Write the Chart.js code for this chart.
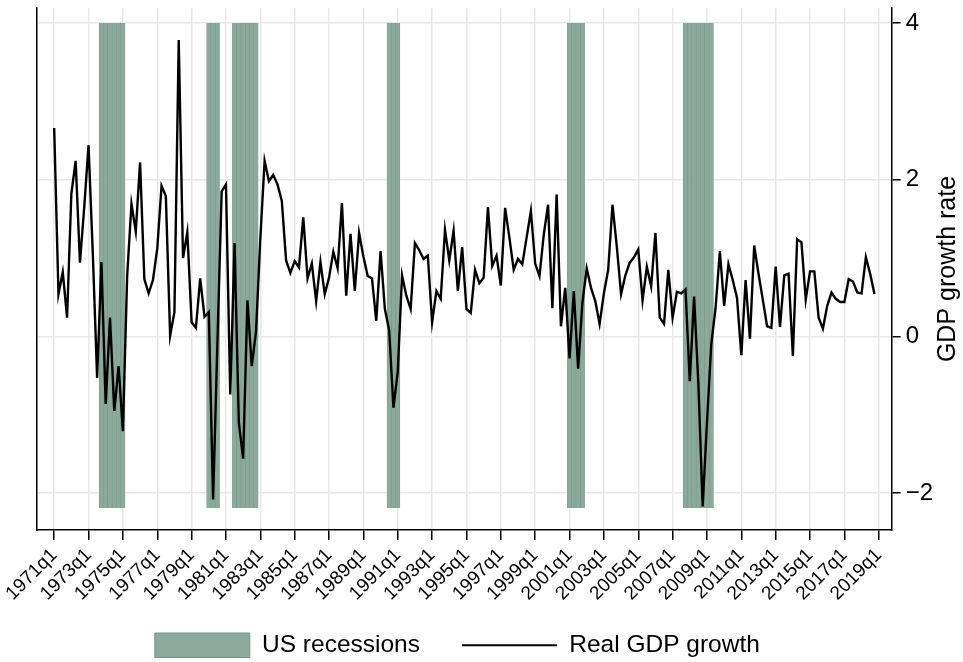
<!DOCTYPE html>
<html>
<head>
<meta charset="utf-8">
<script src="https://cdn.jsdelivr.net/npm/chart.js@4.4.1/dist/chart.umd.min.js"></script>
<style>
  html, body { margin: 0; padding: 0; background: #fff; }
</style>
</head>
<body>
<canvas id="gdp-chart" width="963" height="662"></canvas>
<script>
// quarterly real GDP growth, 1971q1 .. 2018q4
var firstYear = 1971;
var lastTickYear = 2019;
var growth = [
  2.66, 0.54, 0.82, 0.24, 1.82, 2.24, 0.94, 1.65,   // 1971-72
  2.44, 1.05, -0.53, 0.95, -0.86, 0.24, -0.95, -0.38, // 1973-74
  -1.21, 0.78, 1.69, 1.34, 2.22, 0.73, 0.55, 0.72,  // 1975-76
  1.12, 1.92, 1.79, 0.01, 0.31, 3.78, 1.00, 1.33,   // 1977-78
  0.18, 0.11, 0.74, 0.25, 0.31, -2.08, -0.10, 1.85, // 1979-80
  1.94, -0.74, 1.19, -1.10, -1.56, 0.46, -0.38, 0.06, // 1981-82
  1.25, 2.24, 1.98, 2.06, 1.94, 1.73, 0.97, 0.81,   // 1983-84
  0.96, 0.88, 1.52, 0.74, 0.93, 0.45, 0.95, 0.54,   // 1985-86
  0.75, 1.08, 0.87, 1.70, 0.52, 1.31, 0.58, 1.32,   // 1987-88
  1.02, 0.77, 0.74, 0.20, 1.09, 0.35, 0.08, -0.91,  // 1989-90
  -0.45, 0.78, 0.52, 0.35, 1.19, 1.10, 0.99, 1.03,  // 1991-92
  0.18, 0.58, 0.48, 1.36, 0.97, 1.35, 0.58, 1.14,   // 1993-94
  0.35, 0.30, 0.85, 0.68, 0.75, 1.65, 0.90, 1.03,   // 1995-96
  0.65, 1.64, 1.26, 0.85, 0.99, 0.92, 1.26, 1.60,   // 1997-98
  0.93, 0.77, 1.30, 1.68, 0.36, 1.81, 0.13, 0.62,   // 1999-00
  -0.28, 0.58, -0.41, 0.43, 0.87, 0.62, 0.45, 0.16, // 2001-02
  0.55, 0.85, 1.68, 1.15, 0.54, 0.78, 0.94, 1.01,   // 2003-04
  1.11, 0.46, 0.89, 0.64, 1.32, 0.24, 0.16, 0.85,   // 2005-06
  0.24, 0.57, 0.55, 0.60, -0.57, 0.51, -0.60, -2.17, // 2007-08
  -1.10, -0.10, 0.36, 1.09, 0.39, 0.92, 0.72, 0.49, // 2009-10
  -0.24, 0.72, -0.03, 1.16, 0.80, 0.47, 0.13, 0.11, // 2011-12
  0.89, 0.12, 0.78, 0.80, -0.25, 1.24, 1.20, 0.47,  // 2013-14
  0.83, 0.83, 0.24, 0.10, 0.39, 0.56, 0.48, 0.44,   // 2015-16
  0.44, 0.73, 0.70, 0.56, 0.55, 1.01, 0.80, 0.54    // 2017-18
];
var recessions = [
  ["1973q4", "1975q1"],
  ["1980q1", "1980q3"],
  ["1981q3", "1982q4"],
  ["1990q3", "1991q1"],
  ["2001q1", "2001q4"],
  ["2007q4", "2009q2"]
];
var recessionBand = [-2.19, 4];
var yTicks = [-2, 0, 2, 4];
var xTickStep = 8;

var quarters = [];
for (var yr = firstYear; yr <= lastTickYear; yr++) {
  for (var q = 1; q <= 4; q++) quarters.push(yr + "q" + q);
}

var linePoints = growth.map(function (v, i) { return { x: i, y: v }; });

var barPoints = [];
recessions.forEach(function (r) {
  var a = quarters.indexOf(r[0]), b = quarters.indexOf(r[1]);
  for (var i = a; i <= b; i++) barPoints.push({ x: i, y: recessionBand.slice() });
});

var FONT = "'Liberation Sans', Arial, Helvetica, sans-serif";
Chart.defaults.font.family = FONT;
Chart.defaults.color = "#000";

// legend: centred a little left of the plot middle, lifted closer to the axis
var placeLegend = {
  id: "placeLegend",
  afterLayout: function (chart) {
    var lg = chart.legend, ca = chart.chartArea;
    if (!lg) return;
    var dx = (ca.left + ca.right) / 2 - 7 - (lg.left + lg.right) / 2;
    lg.left += dx;
    lg.right += dx;
    lg.top -= 18;
  }
};

// y title on the right, reading bottom to top
var rightTitle = {
  id: "rightTitle",
  afterDraw: function (chart) {
    var ctx = chart.ctx, ca = chart.chartArea;
    ctx.save();
    ctx.translate(chart.width - 15, (ca.top + ca.bottom) / 2);
    ctx.rotate(-Math.PI / 2);
    ctx.font = "25px " + FONT;
    ctx.fillStyle = "#000";
    ctx.textAlign = "center";
    ctx.textBaseline = "middle";
    ctx.fillText("GDP growth rate", 0, 0);
    ctx.restore();
  }
};

new Chart(document.getElementById("gdp-chart"), {
  type: "bar",
  data: {
    datasets: [{
      type: "bar",
      label: "US recessions",
      data: barPoints,
      backgroundColor: "#8ba99c",
      borderColor: "#789888",
      borderWidth: { left: 0.6, right: 0.6, top: 0, bottom: 0 },
      borderSkipped: false,
      barPercentage: 1,
      categoryPercentage: 1,
      order: 2
    }, {
      type: "line",
      label: "Real GDP growth",
      data: linePoints,
      borderColor: "#000",
      borderWidth: 2.4,
      pointRadius: 0,
      pointBorderWidth: 2,
      tension: 0,
      order: 1
    }]
  },
  options: {
    responsive: false,
    animation: false,
    layout: { padding: { top: 8, left: 37, right: 25, bottom: 0 } },
    plugins: {
      tooltip: { enabled: false },
      legend: {
        position: "bottom",
        maxHeight: 53,
        labels: {
          usePointStyle: true,
          pointStyleWidth: 95,
          boxHeight: 25,
          padding: 42,
          font: { size: 24.5 },
          color: "#000",
          generateLabels: function (chart) {
            var items = Chart.defaults.plugins.legend.labels.generateLabels(chart);
            items.sort(function (a, b) { return a.datasetIndex - b.datasetIndex; });
            items.forEach(function (it) {
              if (it.datasetIndex === 0) {
                it.pointStyle = "rect";
                it.lineWidth = 1;
              } else {
                it.pointStyle = "line";
                it.lineWidth = 2;
              }
            });
            return items;
          }
        }
      }
    },
    scales: {
      x: {
        type: "linear",
        min: -4,
        max: 195,
        offset: false,
        afterBuildTicks: function (scale) {
          var t = [];
          for (var i = 0; i < quarters.length; i += xTickStep) t.push({ value: i });
          scale.ticks = t;
        },
        ticks: {
          autoSkip: false,
          maxRotation: 45,
          minRotation: 45,
          padding: 4,
          font: { size: 19 },
          color: "#000",
          callback: function (v) { return quarters[v]; }
        },
        grid: {
          offset: false,
          color: "#e8e8e8",
          lineWidth: 1.5,
          tickColor: "#000",
          tickLength: 10,
          tickWidth: 1.5
        },
        border: { color: "#000", width: 1.5 }
      },
      y: {
        position: "right",
        min: -2.47,
        max: 4.19,
        afterBuildTicks: function (scale) {
          scale.ticks = yTicks.map(function (v) { return { value: v }; });
        },
        afterFit: function (scale) {
          scale.paddingTop = 0;
          scale.paddingBottom = 0;
        },
        ticks: {
          padding: 5,
          font: { size: 24 },
          color: "#000",
          callback: function (v) { return v < 0 ? "\u2212" + Math.abs(v) : String(v); }
        },
        grid: {
          color: "#e8e8e8",
          lineWidth: 1.5,
          tickColor: "#000",
          tickLength: 9,
          tickWidth: 1.5
        },
        border: { color: "#000", width: 1.5 }
      },
      yLeft: {
        position: "left",
        min: 0,
        max: 1,
        ticks: { display: false },
        grid: { display: false, drawTicks: false },
        border: { display: true, color: "#000", width: 1.5 }
      }
    }
  },
  plugins: [placeLegend, rightTitle]
});
</script>
</body>
</html>
